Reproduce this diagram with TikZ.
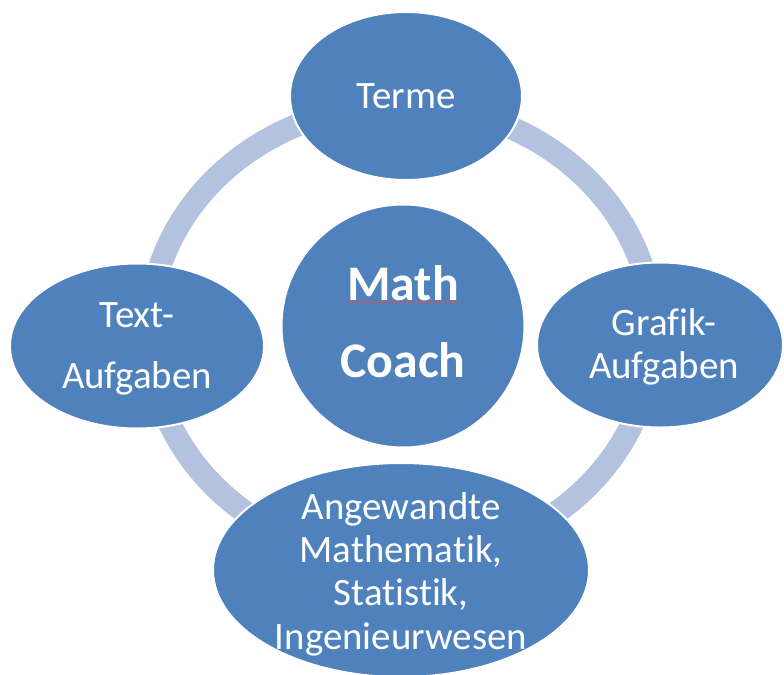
\documentclass[tikz,border=0pt]{standalone}
\usepackage{fontspec}
\setmainfont{Carlito}[Ligatures=NoCommon]
\usepackage{xcolor}
\definecolor{accent}{HTML}{4F81BD}
\definecolor{ringblue}{HTML}{B2C2DF}
\definecolor{spellred}{HTML}{D9534F}
\usepackage{tikz}
\usetikzlibrary{shapes.geometric,positioning,decorations.pathmorphing}

\begin{document}
\begin{tikzpicture}[x=1bp, y=-1bp,
    topic/.style={ellipse, fill=accent, draw=white, line width=2bp, inner sep=0pt},
    hub/.style={circle, fill=accent, draw=white, line width=2bp, inner sep=0pt, minimum size=243bp},
    topictext/.style={text=white, align=center, inner sep=0pt, font=\fontsize{39}{43.5}\selectfont},
    hubtext/.style={text=white, align=center, inner sep=0pt, font=\fontsize{50}{77}\selectfont\bfseries}]
  \useasboundingbox (0,0) rectangle (784,675);
  \fill[white] (0,0) rectangle (784,675);
  \draw[ringblue, line width=23bp] (401,333) ellipse [x radius=252, y radius=228];

  \node[hub] (coach) at (403,326) {};
  \node[topic, minimum width=232bp, minimum height=168bp] (terme) at (406,96) {};
  \node[topic, minimum width=254bp, minimum height=165bp] (textaufg) at (137,346) {};
  \node[topic, minimum width=246bp, minimum height=165bp] (grafikaufg) at (660,345) {};
  \node[topic, minimum width=376bp, minimum height=214bp] (angewandt) at (401,570) {};

  \node[hubtext] (coach-t) at (403,322) {Math\\Coach};
  \node[topictext] (terme-t) at (406,96) {Terme};
  \node[topictext] (textaufg-t) at (137,349) {Text-\\[17.5bp]Aufgaben};
  \node[topictext] (grafikaufg-t) at (664,347) {Grafik-\\Aufgaben};
  \node[topictext] (angewandt-t) at (401,574) {Angewandte\\Mathematik,\\Statistik,\\Ingenieurwesen};

  \draw[spellred, line width=0.6bp, decorate, decoration={snake, amplitude=0.6bp, segment length=2.5bp}] (347,302) -- (460,302);
\end{tikzpicture}
\end{document}
